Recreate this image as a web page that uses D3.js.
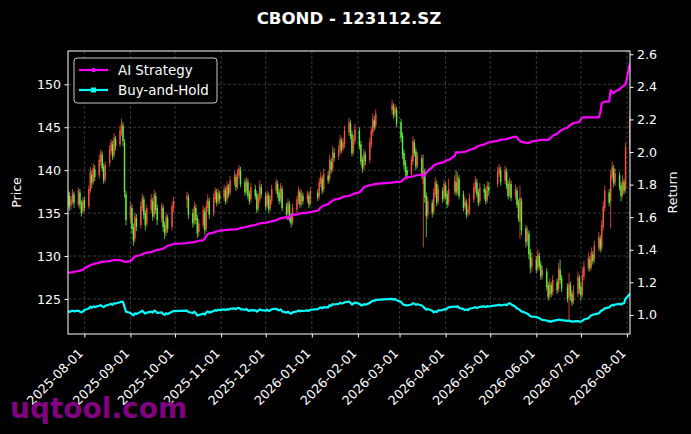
<!DOCTYPE html>
<html><head><meta charset="utf-8">
<script src="https://cdn.jsdelivr.net/npm/d3@7"></script>
<style>body{margin:0;background:#000}svg{display:block}</style>
</head><body>
<svg id="c" width="691" height="434"></svg>
<script>
const titleText = "CBOND - 123112.SZ";
const firstDay = "2025-07-21", lastDay = "2026-08-03";
const holidays = ["2025-10-01","2025-10-02","2025-10-03","2025-10-06","2025-10-07","2025-10-08",
  "2026-01-01","2026-01-02","2026-02-16","2026-02-17","2026-02-18","2026-02-19","2026-02-20","2026-02-23",
  "2026-04-06","2026-05-01","2026-05-04","2026-05-05","2026-06-19"];
const xTickLabels = ["2025-08-01","2025-09-01","2025-10-01","2025-11-01","2025-12-01","2026-01-01","2026-02-01",
  "2026-03-01","2026-04-01","2026-05-01","2026-06-01","2026-07-01","2026-08-01"];
const priceTicks = [125,130,135,140,145,150];
const returnTicks = [1.0,1.2,1.4,1.6,1.8,2.0,2.2,2.4,2.6];
const seriesNames = ["AI Strategy","Buy-and-Hold"];

const openP = [
136.0,137.0,135.9,136.4,137.2, 136.0,137.4,136.2,135.2,136.5, 135.8,137.6,139.5,138.7,140.1, 139.4,141.0,141.8,140.4,139.0,
140.8,142.2,143.0,141.8,143.6, 143.0,144.4,145.2,143.2,137.2, 134.4,135.6,133.4,132.0,134.4, 133.6,135.6,136.6,135.0,133.8,
135.4,136.4,134.8,137.0,135.6, 134.4,135.6,133.6,132.8,134.4, 133.4,135.6, 136.6,136.8,
135.0,134.0,135.6,134.4,132.8, 133.6,135.2,133.2,135.6,136.4, 135.0,136.6,137.4,136.4,137.2,
136.8,137.6,136.6,138.0,137.4, 138.6,139.2,138.2,139.4,140.0, 138.6,137.6,138.6,137.2,136.6, 137.8,137.2,135.6,136.6,138.0,
137.0,136.0,137.0,135.6,136.4, 137.6,138.4,137.4,136.6,137.8, 135.8,135.0,136.0,134.6,134.0, 135.4,136.4,137.4,136.2,137.0,
136.6,137.0,136.2,
137.4,137.0,138.4,139.0,137.8, 139.4,139.0,141.0,140.2,142.0, 141.6,142.2,143.4,142.6,143.0, 144.4,145.4,144.2,142.2,143.4,
144.6,143.0,141.2,140.4,141.8, 141.2,143.0,144.4,145.8,145.2, 147.0,147.4,146.6,147.0,
145.6,144.0,142.0,140.8,140.0, 139.6,141.0,143.2,142.2,140.6, 141.4,138.4,139.8,137.0,134.8, 136.2,135.2,137.2,138.4,136.4,
137.6,136.8,138.2,137.2,136.2, 137.6,138.6,137.6,139.0, 137.2,135.8,136.2,135.0,135.2, 136.6,137.8,138.6,137.4,136.4,
137.8,137.6,136.6,138.0, 138.4,139.6,140.0, 138.8,139.8,138.4,137.2,138.4, 137.0,137.6,136.2,134.0,136.4,
133.2,131.8,132.6,130.4,128.8, 129.6,128.6,130.0,129.0,127.8, 128.2,126.6,125.4,126.6,125.8, 127.0,126.2,128.4,127.4,
126.4,125.2,126.6,125.6,124.8, 125.6,127.4,126.4,125.6,127.6, 128.6,129.6,128.8,130.2,129.6, 131.0,132.0,131.0,133.4,135.6,
137.4,136.4,139.2,140.2,138.6, 139.4,138.2,137.2,138.6,137.8, 142.4];

const closeP = [
137.2,135.8,136.6,137.4,136.2, 137.6,136.0,135.0,136.4,135.6, 137.8,139.8,138.5,140.3,139.2, 141.2,142.0,140.2,138.8,140.6,
142.4,143.2,141.6,143.8,142.8, 144.6,145.4,143.4,137.4,134.2, 135.8,133.2,131.8,134.6,133.4, 135.8,136.8,134.8,133.6,135.6,
136.6,134.6,137.2,135.4,134.2, 135.8,133.4,132.6,134.6,133.2, 135.8,136.4, 137.0,134.8,
133.8,135.8,134.2,132.6,133.8, 135.4,133.0,135.8,136.6,134.8, 136.8,137.6,136.2,137.4,136.6,
137.8,136.4,138.2,137.2,138.8, 139.4,138.0,139.6,140.2,138.4, 137.4,138.8,137.0,136.4,138.0, 137.0,135.4,136.8,138.2,137.2,
135.8,137.2,135.4,136.6,137.8, 138.6,137.2,136.4,138.0,135.6, 134.8,136.2,134.4,133.8,135.6, 136.6,137.6,136.0,137.2,136.4,
137.2,136.0,137.6,
136.8,138.6,139.2,137.6,139.6, 138.8,141.2,140.0,142.2,141.4, 142.4,143.6,142.4,143.2,144.6, 145.6,144.0,142.0,143.6,144.8,
142.8,141.0,140.2,142.0,141.0, 143.2,144.6,146.0,145.0,146.6, 147.6,146.4,147.2,145.4,
143.8,141.8,140.6,139.8,139.4, 141.2,143.4,142.0,140.4,141.6, 139.4,140.0,136.8,134.6,136.4, 135.0,137.4,138.6,136.2,137.8,
136.6,138.4,137.0,136.0,137.8, 138.8,137.4,139.2,137.0, 135.6,136.4,134.8,135.4,136.8, 138.0,138.8,137.2,136.2,138.0,
137.4,136.4,138.2,137.6, 139.8,140.2,138.6, 140.0,138.2,137.0,138.6,136.8, 137.8,136.0,134.4,136.8,133.0,
131.6,132.8,130.2,128.6,129.8, 128.4,130.2,128.8,127.6,128.4, 126.4,125.2,126.8,125.6,127.2, 126.0,128.6,127.2,126.2,
125.0,126.8,125.4,124.6,125.8, 127.6,126.2,125.4,127.8,128.8, 129.8,128.6,130.4,129.4,131.2, 132.2,130.8,133.6,135.8,137.6,
136.2,139.4,140.4,138.4,139.6, 138.0,137.0,138.8,137.6,142.6, 146.2];

const highP = [
137.6,137.5,137.0,137.8,137.5, 138.0,137.8,136.5,136.8,136.9, 138.2,140.4,140.0,140.8,140.6, 141.8,142.4,142.2,140.8,141.0,
142.9,143.6,143.4,144.3,144.0, 145.2,146.0,145.6,143.6,137.6, 136.4,136.0,133.8,135.0,134.9, 136.4,137.3,137.0,135.4,136.0,
137.2,136.8,137.7,137.4,136.0, 136.2,136.0,134.0,135.1,134.8, 136.3,136.9, 137.5,137.2,
135.5,136.3,136.0,134.8,134.3, 135.9,135.6,136.4,137.2,136.8, 137.3,138.0,137.8,137.9,137.6,
138.3,138.0,138.7,138.4,139.3, 139.9,139.6,140.1,140.6,140.4, 139.0,139.2,139.0,137.6,138.5, 138.3,137.6,137.3,138.8,138.4,
137.4,137.6,137.4,137.1,138.3, 139.0,138.8,137.8,138.5,138.2, 136.2,136.7,136.4,135.0,136.1, 137.0,138.1,137.8,137.7,137.4,
137.6,137.4,138.0,
137.8,139.1,139.8,139.4,140.2, 139.9,141.8,141.4,142.8,142.6, 142.9,144.1,143.8,143.7,145.2, 146.1,145.8,144.6,144.1,145.4,
145.0,143.4,141.6,142.5,142.2, 143.8,145.1,146.6,146.3,147.1, 148.2,147.8,147.7,147.4,
146.0,144.4,142.4,141.2,140.4, 141.7,144.0,143.6,142.6,142.1, 141.8,141.8,140.2,137.4,136.9, 136.6,137.9,139.2,138.8,138.3,
138.0,138.9,138.6,137.6,139.0, 139.4,140.0,139.8,139.4, 137.6,136.9,136.6,135.9,137.3, 138.5,139.3,139.0,137.8,138.5,
138.4,138.0,138.7,138.6, 140.4,140.7,140.4, 140.5,140.2,138.8,139.1,138.8, 138.3,138.0,136.6,138.2,136.8,
133.6,133.4,133.0,130.8,130.4, 130.0,130.8,130.4,129.4,128.9, 128.6,127.0,127.4,127.0,127.8, 127.4,129.2,129.6,127.8,
126.8,128.0,127.0,126.0,126.6, 128.2,127.8,126.8,128.6,129.4, 130.4,130.0,131.0,130.6,131.8, 132.8,132.4,134.2,136.4,138.2,
137.8,140.0,141.0,140.6,140.2, 139.8,138.6,139.4,139.0,143.2, 147.0];

const lowP = [
135.6,135.3,135.4,136.0,135.6, 135.7,135.5,134.6,134.9,135.2, 135.5,137.3,137.9,138.3,138.7, 139.0,140.5,139.8,138.4,138.6,
140.4,141.8,141.2,141.4,142.3, 142.7,144.0,142.8,136.8,133.6, 133.8,132.6,131.2,131.6,132.9, 133.2,135.2,134.3,133.0,133.4,
135.0,134.1,134.4,134.9,133.6, 133.9,132.8,132.0,132.3,132.7, 133.0,135.1, 135.6,134.3,
133.3,133.6,133.7,132.1,132.3, 133.2,132.5,132.8,135.1,134.3, 134.6,136.2,135.8,136.0,136.1,
136.4,136.0,136.2,136.8,137.0, 138.2,137.6,137.8,139.0,138.0, 137.0,137.2,136.6,136.0,136.2, 136.6,135.0,135.2,136.2,136.8,
135.3,135.6,135.0,135.2,136.0, 137.2,136.8,136.0,136.2,135.2, 134.4,134.6,134.0,133.3,133.6, 135.0,136.0,135.6,135.8,136.0,
136.2,135.6,135.8,
136.4,136.6,138.0,137.2,137.4, 138.4,138.6,139.6,139.8,141.0, 141.2,141.8,142.0,142.2,142.6, 144.0,143.6,141.6,141.8,143.0,
142.4,140.6,139.7,140.0,140.6, 140.8,142.6,144.0,144.6,144.8, 146.5,146.0,146.2,145.0,
143.3,141.3,140.1,139.2,138.9, 139.2,140.6,141.6,140.0,140.2, 139.0,131.0,136.2,132.2,134.3, 134.5,134.8,136.8,135.8,136.0,
136.2,136.4,136.6,135.6,135.8, 137.2,137.0,137.2,136.6, 135.2,135.4,134.4,134.6,134.8, 136.2,137.4,136.8,135.8,136.0,
136.6,136.0,136.2,137.0, 138.0,139.2,138.2, 138.4,137.8,136.6,136.8,136.4, 136.6,135.6,134.0,132.0,132.4,
131.0,131.2,129.6,128.0,128.2, 128.0,128.2,128.4,127.2,127.3, 126.0,124.8,125.0,125.2,125.4, 125.6,125.8,126.8,125.8,
124.6,122.6,124.8,124.2,124.4, 125.2,125.6,124.8,125.2,127.2, 128.2,128.2,128.4,129.0,129.2, 130.6,130.4,130.6,133.0,135.2,
135.8,133.2,138.8,138.0,138.2, 137.6,136.4,136.8,137.2,137.4, 141.8];

const aiReturn = [
1.258,1.260,1.262,1.262,1.265, 1.268,1.272,1.275,1.276,1.285, 1.300,1.305,1.308,1.312,1.315, 1.320,1.325,1.327,1.326,1.328,
1.330,1.333,1.335,1.336,1.337, 1.336,1.334,1.330,1.327,1.326, 1.330,1.338,1.350,1.358,1.362, 1.368,1.372,1.378,1.380,1.383,
1.385,1.390,1.392,1.396,1.400, 1.404,1.408,1.412,1.418,1.425, 1.432,1.436, 1.440,1.443,
1.445,1.448,1.450,1.452,1.455, 1.458,1.470,1.485,1.495,1.500, 1.505,1.510,1.512,1.515,1.518,
1.520,1.521,1.522,1.524,1.524, 1.525,1.526,1.526,1.530,1.534, 1.538,1.540,1.542,1.545,1.548, 1.552,1.555,1.560,1.562,1.564,
1.566,1.568,1.570,1.572,1.575, 1.580,1.585,1.590,1.593,1.596, 1.600,1.588,1.605,1.610,1.614, 1.617,1.620,1.622,1.624,1.626,
1.628,1.630,1.632,
1.640,1.650,1.660,1.666,1.672, 1.680,1.690,1.695,1.702,1.708, 1.712,1.716,1.720,1.724,1.728, 1.730,1.734,1.738,1.742,1.746,
1.752,1.762,1.772,1.782,1.788, 1.795,1.798,1.800,1.803,1.805, 1.812,1.814,1.815,1.817,
1.818,1.826,1.835,1.842,1.846, 1.848,1.850,1.853,1.856,1.859, 1.860,1.850,1.858,1.872,1.885, 1.905,1.918,1.922,1.926,1.930,
1.935,1.940,1.945,1.950,1.952, 1.975,2.000,1.995,1.998, 2.000,2.002,2.004,2.008,2.014, 2.020,2.026,2.032,2.037,2.040,
2.046,2.052,2.056,2.060, 2.068,2.072,2.076, 2.078,2.080,2.082,2.085,2.088, 2.094,2.090,2.075,2.070,2.062,
2.058,2.054,2.056,2.060,2.066, 2.068,2.072,2.074,2.074,2.074, 2.074,2.076,2.080,2.090,2.100, 2.112,2.120,2.128,2.135,
2.150,2.160,2.166,2.172,2.178, 2.182,2.186,2.200,2.213,2.213, 2.213,2.213,2.213,2.213,2.213, 2.213,2.240,2.300,2.305,2.309,
2.309,2.380,2.365,2.360,2.372, 2.385,2.395,2.402,2.408,2.415, 2.545];

const bhReturn = [
1.024,1.018,1.022,1.026,1.022, 1.026,1.020,1.016,1.022,1.030, 1.040,1.050,1.044,1.052,1.048, 1.056,1.060,1.052,1.048,1.056,
1.064,1.068,1.062,1.072,1.070, 1.078,1.082,1.080,1.050,1.020, 1.012,1.004,0.998,1.010,1.006, 1.020,1.026,1.016,1.008,1.014,
1.020,1.014,1.026,1.022,1.012, 1.016,1.006,1.000,1.010,1.006, 1.020,1.024, 1.026,1.018,
1.012,1.020,1.010,0.996,1.000, 1.008,1.002,1.016,1.022,1.014, 1.024,1.030,1.026,1.032,1.030,
1.034,1.030,1.036,1.032,1.038, 1.040,1.036,1.042,1.044,1.036, 1.032,1.036,1.028,1.024,1.030, 1.028,1.020,1.026,1.034,1.030,
1.026,1.032,1.024,1.028,1.034, 1.038,1.032,1.028,1.034,1.022, 1.014,1.020,1.012,1.008,1.016, 1.022,1.028,1.022,1.026,1.024,
1.028,1.024,1.032,
1.036,1.042,1.046,1.040,1.048, 1.046,1.060,1.056,1.066,1.064, 1.068,1.074,1.070,1.072,1.078, 1.082,1.074,1.064,1.070,1.076,
1.068,1.060,1.058,1.066,1.062, 1.074,1.082,1.088,1.086,1.092, 1.098,1.094,1.098,1.090,
1.080,1.068,1.062,1.060,1.058, 1.064,1.072,1.068,1.062,1.066, 1.058,1.050,1.040,1.032,1.036, 1.026,1.016,1.022,1.018,1.028,
1.030,1.036,1.032,1.040,1.046, 1.052,1.048,1.054,1.044, 1.036,1.030,1.034,1.030,1.038, 1.044,1.048,1.042,1.046,1.050,
1.052,1.048,1.054,1.052, 1.060,1.062,1.058, 1.064,1.060,1.068,1.072,1.066, 1.050,1.040,1.036,1.030,1.022,
1.012,1.008,1.000,0.992,0.990, 0.988,0.984,0.980,0.974,0.970, 0.966,0.960,0.962,0.958,0.964, 0.968,0.972,0.970,0.968,
0.964,0.966,0.962,0.958,0.960, 0.962,0.958,0.960,0.964,0.972, 0.980,0.990,0.998,1.000,1.004, 1.010,1.020,1.028,1.032,1.040,
1.046,1.056,1.062,1.058,1.064, 1.068,1.064,1.070,1.072,1.100, 1.130];

// ---- build trading days ----
const parse = d3.timeParse("%Y-%m-%d"), fmt = d3.timeFormat("%Y-%m-%d");
const hol = new Set(holidays);
const days = d3.timeDay.range(parse(firstDay), d3.timeDay.offset(parse(lastDay), 1))
  .filter(d => d.getDay() !== 0 && d.getDay() !== 6 && !hol.has(fmt(d)));
const n = Math.min(days.length, closeP.length);
const data = d3.range(n).map(i => ({date: days[i], o: openP[i], h: highP[i], l: lowP[i], c: closeP[i], ai: aiReturn[i], bh: bhReturn[i]}));

// ---- layout ----
const W = 691, H = 434;
const m = {l: 68, r: 630, t: 51, b: 334};
const svg = d3.select("#c");
svg.append("rect").attr("width", W).attr("height", H).attr("fill", "#000");

const x = d3.scaleTime().domain([parse(firstDay), parse(lastDay)]).range([m.l, m.r]);
const yP = d3.scaleLinear().domain([120.92, 153.88]).range([m.b, m.t]);
const yR = d3.scaleLinear().domain([0.883, 2.62]).range([m.b, m.t]);
const xTicks = xTickLabels.map(parse);

// grid
const grid = svg.append("g").attr("stroke", "#5e5e5e").attr("stroke-width", 0.6).attr("stroke-dasharray", "3,2");
grid.selectAll("line.v").data(xTicks).join("line").attr("x1", d => x(d)).attr("x2", d => x(d)).attr("y1", m.t).attr("y2", m.b);
grid.selectAll("line.h").data(priceTicks).join("line").attr("y1", d => yP(d)).attr("y2", d => yP(d)).attr("x1", m.l).attr("x2", m.r);

// clip
svg.append("clipPath").attr("id", "clip").append("rect").attr("x", m.l).attr("y", m.t).attr("width", m.r - m.l).attr("height", m.b - m.t);
const plot = svg.append("g").attr("clip-path", "url(#clip)");

// candles
const upC = "#f5503f", dnC = "#5ef03a";
const cg = plot.append("g");
cg.selectAll("line").data(data).join("line")
  .attr("x1", d => x(d.date)).attr("x2", d => x(d.date))
  .attr("y1", d => yP(d.h)).attr("y2", d => yP(d.l))
  .attr("stroke", d => d.c >= d.o ? upC : dnC).attr("stroke-width", 0.8);
cg.selectAll("rect").data(data).join("rect")
  .attr("x", d => x(d.date) - 0.7).attr("width", 1.4)
  .attr("y", d => yP(Math.max(d.o, d.c)))
  .attr("height", d => Math.max(0.8, Math.abs(yP(d.o) - yP(d.c))))
  .attr("fill", d => d.c >= d.o ? upC : dnC);

// lines
const lineAI = d3.line().x(d => x(d.date)).y(d => yR(d.ai));
const lineBH = d3.line().x(d => x(d.date)).y(d => yR(d.bh));
plot.append("path").datum(data).attr("d", lineBH).attr("fill", "none").attr("stroke", "#00ffff").attr("stroke-width", 2.2).attr("stroke-linejoin", "round");
plot.append("path").datum(data).attr("d", lineAI).attr("fill", "none").attr("stroke", "#ff00ff").attr("stroke-width", 2.2).attr("stroke-linejoin", "round");

// frame
svg.append("rect").attr("x", m.l).attr("y", m.t).attr("width", m.r - m.l).attr("height", m.b - m.t)
  .attr("fill", "none").attr("stroke", "#fff").attr("stroke-width", 1);

const font = "DejaVu Sans, sans-serif";
// axes
const axL = svg.append("g").attr("transform", `translate(${m.l},0)`)
  .call(d3.axisLeft(yP).tickValues(priceTicks).tickSize(3.5).tickPadding(3.5).tickFormat(d3.format("d")));
const axR = svg.append("g").attr("transform", `translate(${m.r},0)`)
  .call(d3.axisRight(yR).tickValues(returnTicks).tickSize(3.5).tickPadding(3.5).tickFormat(d3.format(".1f")));
const axB = svg.append("g").attr("transform", `translate(0,${m.b})`)
  .call(d3.axisBottom(x).tickValues(xTicks).tickSize(3.5).tickFormat(fmt));
[axL, axR, axB].forEach(a => {
  a.select(".domain").remove();
  a.selectAll("line").attr("stroke", "#fff");
  a.selectAll("text").attr("fill", "#fff").style("font-family", font).style("font-size", "12.6px");
});
axB.selectAll("text").attr("text-anchor", "end").attr("x", 0).attr("y", 0).attr("dy", "0.35em")
  .attr("transform", "translate(-4,17) rotate(-45)");

// labels
svg.append("text").attr("transform", `translate(21,${(m.t + m.b) / 2}) rotate(-90)`).attr("text-anchor", "middle")
  .attr("fill", "#fff").style("font-family", font).style("font-size", "12.6px").text("Price");
svg.append("text").attr("transform", `translate(677,${(m.t + m.b) / 2}) rotate(-90)`).attr("text-anchor", "middle")
  .attr("fill", "#fff").style("font-family", font).style("font-size", "12.6px").text("Return");
svg.append("text").attr("x", (m.l + m.r) / 2).attr("y", 24).attr("text-anchor", "middle")
  .attr("fill", "#fff").style("font-family", font).style("font-size", "16.6px").style("font-weight", "bold").text(titleText);

// legend
const lg = svg.append("g");
lg.append("rect").attr("x", 74).attr("y", 58).attr("width", 143).attr("height", 45).attr("rx", 3)
  .attr("fill", "#000").attr("fill-opacity", 0.8).attr("stroke", "#c8c8c8").attr("stroke-width", 1);
const lcol = ["#ff00ff", "#00ffff"];
seriesNames.forEach((s, i) => {
  const yy = 70 + i * 20;
  lg.append("line").attr("x1", 79).attr("x2", 108).attr("y1", yy).attr("y2", yy).attr("stroke", lcol[i]).attr("stroke-width", 2.2);
  if (i === 0) lg.append("circle").attr("cx", 93.5).attr("cy", yy).attr("r", 2.2).attr("fill", lcol[i]);
  else lg.append("rect").attr("x", 91).attr("y", yy - 2.5).attr("width", 5).attr("height", 5).attr("fill", lcol[i]);
  lg.append("text").attr("x", 118).attr("y", yy).attr("dy", "0.35em").attr("fill", "#fff")
    .style("font-family", font).style("font-size", "13.4px").text(s);
});

// watermark
svg.append("text").attr("x", 10).attr("y", 418).attr("fill", "#8b008b").attr("fill-opacity", 0.95)
  .style("font-family", font).style("font-size", "28px").style("font-weight", "bold").text("uqtool.com");
</script>
</body></html>
